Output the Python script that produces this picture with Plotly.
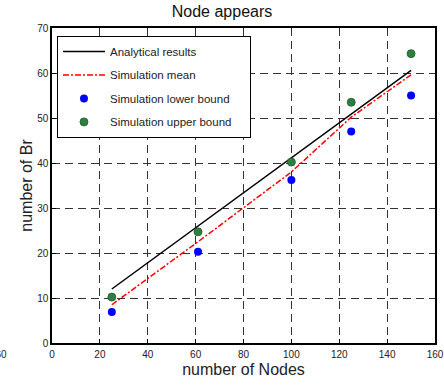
import plotly.graph_objects as go

nodes = [25, 61, 100, 125, 150]
analytical = [12.0, 26.0, 41.1, 50.8, 60.6]
sim_mean = [8.5, 22.5, 38.0, 50.2, 59.6]
sim_lower = [6.9, 20.3, 36.2, 47.0, 55.0]
sim_upper = [10.2, 24.7, 40.2, 53.5, 64.3]

x_ticks = [0, 20, 40, 60, 80, 100, 120, 140, 160]
y_ticks = [0, 10, 20, 30, 40, 50, 60, 70]

FONT = "Liberation Sans, Arial, sans-serif"
PAD = "\u00a0" * 4

fig = go.Figure()
fig.add_trace(go.Scatter(x=[nodes[0], nodes[-1]], y=[analytical[0], analytical[-1]], mode="lines",
                         name="Analytical results", legendgroup="a",
                         line=dict(color="black", width=1.5)))
fig.add_trace(go.Scatter(x=nodes, y=sim_mean, mode="lines", name="Simulation mean", legendgroup="b",
                         line=dict(color="red", width=1.5, dash="6px,2px,2px,2px")))
fig.add_trace(go.Scatter(x=nodes, y=sim_lower, mode="markers", name="Simulation lower bound", legendgroup="c",
                         marker=dict(color="#0000FF", size=8, line=dict(width=0))))
fig.add_trace(go.Scatter(x=nodes, y=sim_upper, mode="markers", name="Simulation upper bound" + PAD, legendgroup="d",
                         marker=dict(color="#2E8040", size=8, line=dict(color="#1E5A2A", width=0.8))))

axis_common = dict(
    showgrid=True, gridcolor="#333333", gridwidth=1, griddash="8px,5px",
    showline=True, linecolor="black", linewidth=1.5, mirror=True,
    ticks="inside", ticklen=4, tickcolor="black",
    zeroline=False, automargin=False,
    tickfont=dict(family=FONT, size=10, color="#222222"),
)

fig.update_xaxes(range=[0, 160], tickvals=x_ticks, ticklabelstandoff=1,
                 title=dict(text="number of Nodes", font=dict(family=FONT, size=16, color="#222222"), standoff=5),
                 **axis_common)
fig.update_yaxes(range=[0, 70], tickvals=y_ticks,
                 title=dict(text="number of Br", font=dict(family=FONT, size=16, color="#222222"), standoff=1),
                 **axis_common)

fig.add_annotation(text="160", xref="paper", yref="paper", x=(9 - 52) / 383, y=-0.012,
                   xanchor="right", yanchor="top", showarrow=False,
                   font=dict(family=FONT, size=10, color="#222222"))

fig.update_layout(
    width=444, height=385,
    margin=dict(l=52, r=9, t=28, b=42, autoexpand=False),
    paper_bgcolor="white", plot_bgcolor="white",
    title=dict(text="Node appears", x=0.5, xanchor="center", y=0.986, yanchor="top",
               font=dict(family=FONT, size=16, color="#111111")),
    legend=dict(x=0.013, y=0.975, xanchor="left", yanchor="top",
                bgcolor="white", bordercolor="black", borderwidth=1,
                font=dict(family=FONT, size=11.5, color="#222222"),
                itemwidth=42, tracegroupgap=4.5),
    showlegend=True,
)

fig.write_html("out.html", config={"displayModeBar": False},
               post_script="document.body.style.margin='0';")
